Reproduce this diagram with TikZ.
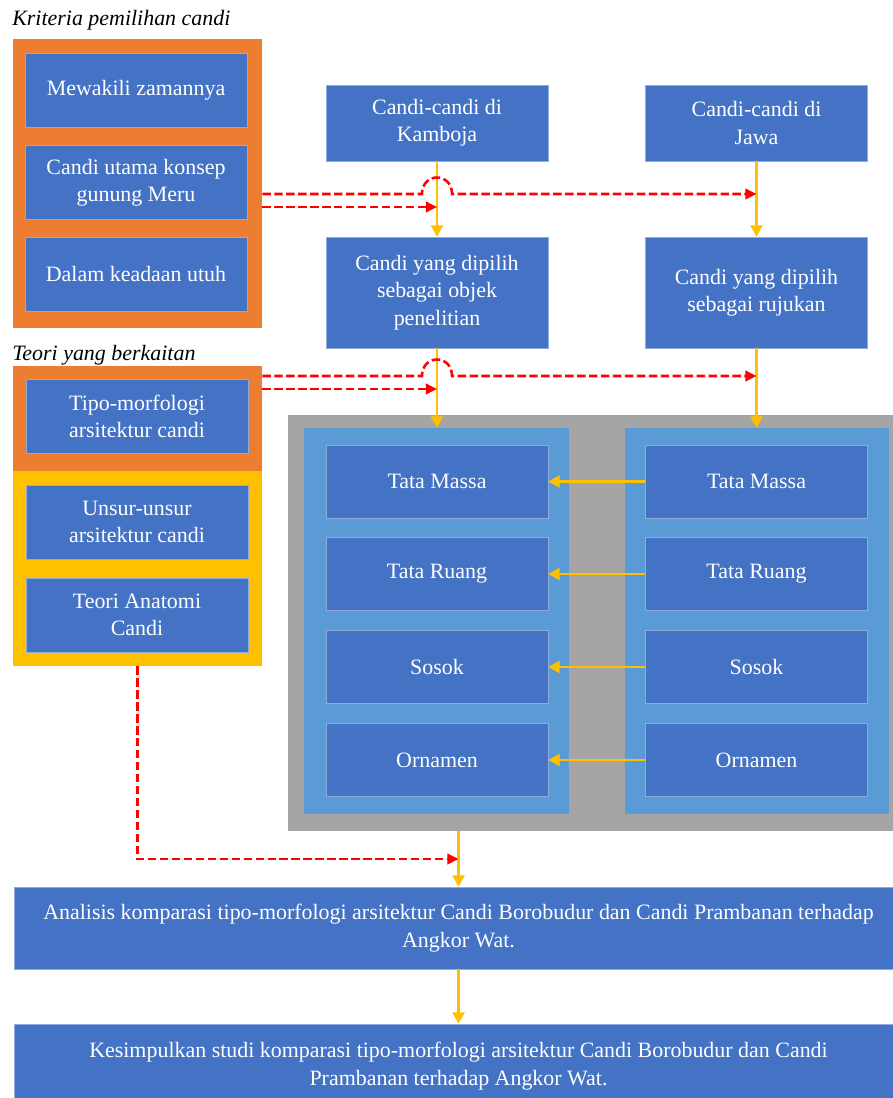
\documentclass[tikz,border=0pt]{standalone}
\usepackage{fontspec}
\setmainfont{Liberation Serif}
\usetikzlibrary{arrows.meta}
\definecolor{boxblue}{HTML}{4472C4}
\definecolor{boxedge}{HTML}{8FAADC}
\definecolor{frameorange}{HTML}{ED7D31}
\definecolor{framegold}{HTML}{FFC000}
\definecolor{framegray}{HTML}{A5A5A5}
\definecolor{paneblue}{HTML}{5B9BD5}
\definecolor{linkred}{HTML}{FF0000}

\tikzset{
  blk/.style={fill=boxblue, draw=boxedge, line width=0.4pt, text=white, align=center, inner sep=0pt, minimum width=5.55cm, minimum height=1.85cm},
  frame/.style={inner sep=0pt, draw=none},
  flow/.style={draw=framegold, line width=1.6pt, -{Triangle[length=8pt,width=8.5pt]}},
  link/.style={draw=linkred, line width=1.8pt, dash pattern=on 6pt off 2.5pt, -{Triangle[length=8pt,width=7.5pt]}},
}

\begin{document}
\begin{tikzpicture}[x=0.025cm, y=-0.025cm, font=\fontsize{15.6pt}{19.5pt}\selectfont]
\clip (0,0) rectangle (893,1098);

\node[anchor=west, inner sep=0pt] (crithead) at (12,20) {\itshape Kriteria pemilihan candi};
\node[frame, fill=frameorange, minimum width=6.225cm, minimum height=7.225cm] (crit) at (137.5,183.5) {};
\node[blk] (mewakili) at (136,90) {Mewakili zamannya};
\node[blk] (meru) at (136,182.5) {Candi utama konsep\\gunung Meru};
\node[blk] (utuh) at (136,274) {Dalam keadaan utuh};

\node[anchor=west, inner sep=0pt] (teorihead) at (12,355) {\itshape Teori yang berkaitan};
\node[frame, fill=frameorange, minimum width=6.225cm, minimum height=2.625cm] (tipoframe) at (137.5,418.5) {};
\node[frame, fill=framegold, minimum width=6.225cm, minimum height=4.875cm] (gold) at (137.5,568.5) {};
\node[blk] (tipo) at (137,416.5) {Tipo-morfologi\\arsitektur candi};
\node[blk] (unsur) at (137,522) {Unsur-unsur\\arsitektur candi};
\node[blk] (anatomi) at (137,615) {Teori Anatomi\\Candi};

\node[blk, minimum height=1.9cm] (kamboja) at (437,123) {Candi-candi di\\Kamboja};
\node[blk, minimum height=1.9cm] (jawa) at (756.5,123) {Candi-candi di\\Jawa};
\node[blk, minimum height=2.775cm] (objek) at (437,292.5) {Candi yang dipilih\\sebagai objek\\penelitian};
\node[blk, minimum height=2.775cm] (rujukan) at (756.5,292.5) {Candi yang dipilih\\sebagai rujukan};

\node[frame, fill=framegray, minimum width=15.425cm, minimum height=10.4cm] (gray) at (596.5,623) {};
\node[frame, fill=paneblue, minimum width=6.625cm, minimum height=9.65cm] (lpane) at (436.5,621) {};
\node[frame, fill=paneblue, minimum width=6.6cm, minimum height=9.65cm] (rpane) at (757,621) {};
\foreach \nm/\txt/\yy in {massa/Tata Massa/481.5, ruang/Tata Ruang/574, sosok/Sosok/667, ornamen/Ornamen/760} {
  \node[blk, minimum height=1.825cm] (l\nm) at (437,\yy) {\txt};
  \node[blk, minimum height=1.825cm] (r\nm) at (756.5,\yy) {\txt};
  \draw[flow] (r\nm) -- (l\nm);
}

\node[blk, minimum width=22.225cm, minimum height=2.05cm] (analisis) at (458.5,928) {Analisis komparasi tipo-morfologi arsitektur Candi Borobudur dan Candi Prambanan terhadap\\Angkor Wat.};
\node[blk, minimum width=22.225cm, minimum height=2.1cm] (kesimpulan) at (458.5,1066) {Kesimpulkan studi komparasi tipo-morfologi arsitektur Candi Borobudur dan Candi\\Prambanan terhadap Angkor Wat.};

\draw[flow] (kamboja) -- (objek);
\draw[flow] (jawa) -- (rujukan);
\draw[flow] (objek) -- (objek |- lpane.north);
\draw[flow] (rujukan) -- (rujukan |- rpane.north);
\draw[flow] (analisis.north |- gray.south) -- (analisis);
\draw[flow] (analisis) -- (kesimpulan);

\draw[link] (crit.east |- 0,194) -- (422,194) .. controls +(0,-22) and +(0,-22) .. (452,194) -- (jawa.south |- 0,194);
\draw[link] (crit.east |- 0,207) -- (kamboja.south |- 0,207);
\draw[link] (tipoframe.east |- 0,376) -- (422,376) .. controls +(0,-22) and +(0,-22) .. (452,376) -- (rujukan.south |- 0,376);
\draw[link] (tipoframe.east |- 0,389) -- (objek.south |- 0,389);
\draw[link] (gold.south) |- (analisis.north |- 0,859);
\end{tikzpicture}
\end{document}
